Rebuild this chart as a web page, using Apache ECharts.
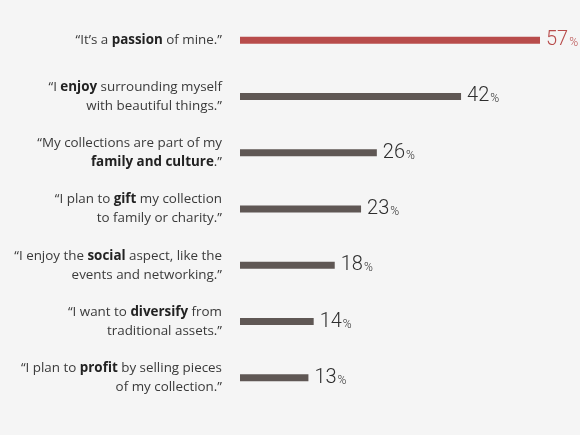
<!DOCTYPE html>
<html>
<head>
<meta charset="utf-8">
<script src="https://cdn.jsdelivr.net/npm/echarts@6/dist/echarts.min.js"></script>
<style>
  html, body { margin: 0; padding: 0; background: #f5f5f5; }
  #chart { width: 580px; height: 435px; }
</style>
</head>
<body>
<div id="chart"></div>
<script>
// statements, top to bottom; {b|...} marks the bold words
const categories = [
  "“It’s a {b|passion} of mine.”",
  "“I {b|enjoy} surrounding myself\nwith beautiful things.”",
  "“My collections are part of my\n{b|family and culture}.”",
  "“I plan to {b|gift} my collection\nto family or charity.”",
  "“I enjoy the {b|social} aspect, like the\nevents and networking.”",
  "“I want to {b|diversify} from\ntraditional assets.”",
  "“I plan to {b|profit} by selling pieces\nof my collection.”",
];
const values = [57, 42, 26, 23, 18, 14, 13];

const RED = "#b84c4b";
const GREY = "#5f5754";
const TEXT_FONT = "'Open Sans', sans-serif";
const NUM_FONT = "Roboto, sans-serif";

const chart = echarts.init(document.getElementById("chart"));

chart.setOption({
  backgroundColor: "#f5f5f5",
  animation: false,
  grid: { left: 240, width: 300, top: 12, bottom: 29 },
  xAxis: {
    type: "value",
    min: 0,
    max: 57,
    show: false,
  },
  yAxis: {
    type: "category",
    inverse: true,
    data: categories,
    axisLine: { show: false },
    axisTick: { show: false },
    axisLabel: {
      margin: 18,
      align: "right",
      fontFamily: TEXT_FONT,
      fontSize: 13.4,
      lineHeight: 19,
      color: "#3a3a3a",
      rich: {
        b: { fontFamily: TEXT_FONT, fontSize: 13.4, fontWeight: "bold", color: "#222", lineHeight: 19 },
      },
    },
  },
  series: [{
    type: "bar",
    barWidth: 7,
    data: values.map((v, i) => ({
      value: v,
      itemStyle: { color: i === 0 ? RED : GREY },
      label: { color: i === 0 ? RED : "#2e2e2e" },
    })),
    label: {
      show: true,
      position: "right",
      distance: 6,
      formatter: (p) => `{n|${p.value}}{p|%}`,
      rich: {
        n: { fontFamily: NUM_FONT, fontSize: 20, fontWeight: 300 },
        p: { fontFamily: NUM_FONT, fontSize: 12, fontWeight: 300, padding: [6, 0, 0, 1] },
      },
    },
  }],
});
</script>
</body>
</html>
